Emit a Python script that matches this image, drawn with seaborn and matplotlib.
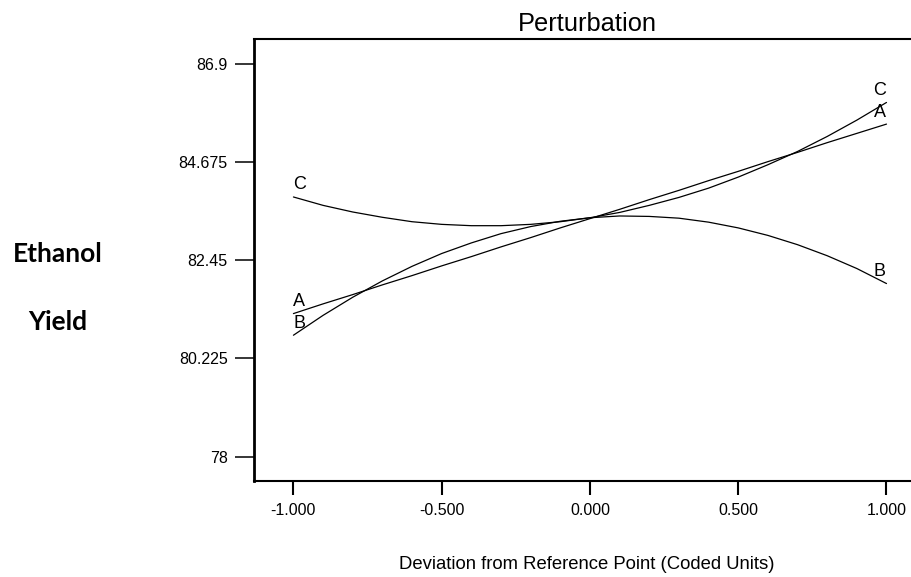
import seaborn as sns
import pandas as pd
import matplotlib
matplotlib.use("Agg")
import matplotlib.pyplot as plt

# coded deviation from the reference point
deviation = [-1.0, -0.9, -0.8, -0.7, -0.6, -0.5, -0.4, -0.3, -0.2, -0.1, 0.0,
             0.1, 0.2, 0.3, 0.4, 0.5, 0.6, 0.7, 0.8, 0.9, 1.0]

# predicted ethanol yield for each factor
yield_a = [81.24, 81.46, 81.67, 81.89, 82.10, 82.32, 82.53, 82.75, 82.96, 83.18, 83.39,
           83.60, 83.82, 84.03, 84.25, 84.46, 84.68, 84.89, 85.11, 85.32, 85.53]
yield_b = [80.75, 81.20, 81.61, 81.98, 82.31, 82.60, 82.84, 83.05, 83.21, 83.33, 83.41,
           83.45, 83.44, 83.40, 83.31, 83.18, 83.01, 82.80, 82.55, 82.26, 81.92]
yield_c = [83.88, 83.69, 83.54, 83.42, 83.32, 83.26, 83.23, 83.23, 83.26, 83.32, 83.41,
           83.53, 83.69, 83.87, 84.08, 84.33, 84.61, 84.91, 85.25, 85.62, 86.02]

factors = ["A", "B", "C"]
y_ticks = [78, 80.225, 82.45, 84.675, 86.9]
y_tick_labels = ["78", "80.225", "82.45", "84.675", "86.9"]
x_ticks = [-1.0, -0.5, 0.0, 0.5, 1.0]
x_tick_labels = ["-1.000", "-0.500", "0.000", "0.500", "1.000"]

if __name__ == '__main__':
    sns.set_style("white")
    plt.rcParams['font.family'] = ['Liberation Sans', 'DejaVu Sans']
    for key in ['text.color', 'axes.labelcolor', 'xtick.color', 'ytick.color']:
        plt.rcParams[key] = 'black'

    df = pd.DataFrame({
        "deviation": deviation * 3,
        "yield": yield_a + yield_b + yield_c,
        "factor": [f for f in factors for _ in deviation],
    })

    fig = plt.figure(figsize=(9.12, 5.77), dpi=100)
    ax = fig.add_axes([0.2785, 0.1664, 0.7215, 0.7655])

    sns.lineplot(data=df, x="deviation", y="yield", hue="factor",
                 palette=["black"] * 3, estimator=None, sort=True,
                 linewidth=0.9, legend=False, ax=ax)

    # factor letters at both ends of every curve
    for f, ys in zip(factors, [yield_a, yield_b, yield_c]):
        ax.annotate(f, (deviation[0], ys[0]), xytext=(6, 12), textcoords="offset pixels",
                    ha="center", va="center", fontsize=13)
        ax.annotate(f, (deviation[-1], ys[-1]), xytext=(-7, 12), textcoords="offset pixels",
                    ha="center", va="center", fontsize=13)

    ax.set_xlim(-1.133, 1.086)
    ax.set_ylim(77.45, 87.45)
    ax.set_xticks(x_ticks)
    ax.set_xticklabels(x_tick_labels)
    ax.set_yticks(y_ticks)
    ax.set_yticklabels(y_tick_labels)
    ax.tick_params(axis="x", direction="out", length=10, width=1.5, pad=6,
                   labelsize=11.5, bottom=True)
    ax.tick_params(axis="y", direction="out", length=13.5, width=1.1, pad=5.5,
                   labelsize=11.5, left=True)

    ax.spines["right"].set_visible(False)
    for side in ["top", "bottom"]:
        ax.spines[side].set_color("black")
        ax.spines[side].set_linewidth(1.5)
    ax.spines["left"].set_color("black")
    ax.spines["left"].set_linewidth(2)

    ax.set_ylabel("")
    ax.set_xlabel("Deviation from Reference Point (Coded Units)", fontsize=13.3)
    ax.xaxis.label.set_va("center")
    ax.xaxis.set_label_coords((587 - 254) / 658, (481 - 565) / 441.7)

    fig.text(587 / 912, 1 - 24 / 577, "Perturbation", ha="center", va="center", fontsize=18.3)

    fig.text(57.7 / 912, 1 - 262.3 / 577, "Ethanol", ha="center", va="baseline",
             fontsize=19, fontweight="bold", family=["Lato", "DejaVu Sans"])
    fig.text(57.7 / 912, 1 - 330 / 577, "Yield", ha="center", va="baseline",
             fontsize=19, fontweight="bold", family=["Lato", "DejaVu Sans"])

    plt.savefig("out.png", dpi=100)
